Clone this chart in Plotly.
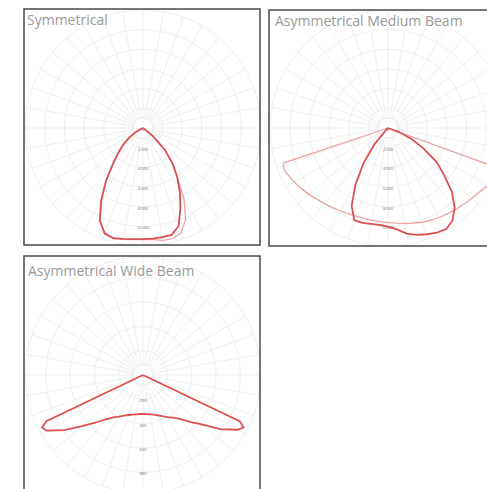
import plotly.graph_objects as go

# ---------------- data ----------------
# angles in degrees from nadir (0 = straight down, + = right side)
sym_theta = [-90, -80, -70, -65, -60, -55, -50, -45, -40, -35, -30, -25, -20, -15, -10, -5,
             0, 5, 10, 15, 20, 25, 30, 35, 40, 45, 50, 55, 60, 70, 80, 90]
sym_c0 = [0, 0, 0, 250, 900, 1750, 2600, 3550, 4750, 6550, 8500, 10400, 11400, 11600, 11450, 11350,
          11300, 11300, 11280, 11250, 10600, 9000, 7500, 6050, 4650, 3150, 1400, 250, 0, 0, 0, 0]
sym_c90 = [0, 0, 0, 200, 900, 1750, 2600, 3550, 4750, 6550, 8500, 10400, 11450, 11650, 11500, 11400,
           11350, 11400, 11600, 11650, 11350, 10250, 8350, 6100, 4650, 3150, 1400, 250, 0, 0, 0, 0]

amb_theta_narrow = [-90, -50, -45, -40, -35, -30, -25, -20, -15, -10, -5, 0, 5, 10, 15, 20, 25,
                    30, 35, 40, 45, 50, 55, 60, 65, 70, 75, 90]
amb_narrow = [0, 0, 200, 2150, 4300, 6600, 8750, 10000, 10000, 9900, 9880, 10040, 10350, 10900,
              11250, 11500, 11750, 11850, 11450, 10550, 9200, 7450, 6050, 4150, 2650, 1200, 0, 0]

amb_theta_wide = [-90, -74, -71.5, -69, -66, -60, -55, -50, -45, -40, -35, -30, -25, -20, -15, -10,
                  -5, 0, 5, 10, 15, 20, 25, 30, 35, 40, 45, 50, 55, 60, 65, 68, 70, 72, 90]
amb_wide = [0, 0, 11150, 11400, 11300, 11000, 10750, 10500, 10230, 10050, 9880, 9720, 9620, 9540,
            9520, 9530, 9550, 9620, 9720, 9840, 10000, 10200, 10340, 10480, 10620, 10780, 10930,
            11130, 11360, 11700, 11900, 11950, 11900, 0, 0]

awb_theta = [-90, -67, -64.5, -62.5, -60, -55, -50, -45, -40, -35, -30, -25, -20, -15, -10, -5, 0,
             5, 10, 15, 20, 25, 30, 35, 40, 45, 50, 55, 60, 62.5, 64.5, 67, 90]
awb_vals = [0, 0, 880, 935, 915, 790, 655, 555, 475, 425, 395, 368, 350, 337, 328, 322, 320,
            322, 328, 338, 352, 372, 400, 428, 472, 545, 630, 775, 900, 932, 880, 0, 0]

sym_ticks = [0, 2000, 4000, 6000, 8000, 10000, 12000]
sym_tick_labels = ["0", "2.000", "4.000", "6.000", "8.000", "10.000", "12.000"]
amb_ticks = [0, 2000, 4000, 6000, 8000, 10000, 12000]
amb_tick_labels = ["0", "2.000", "4.000", "6.000", "8.000", "10.000", "12.000"]
awb_ticks = [0, 200, 400, 600, 800]
awb_tick_labels = ["0", "200", "400", "600", "800"]

titles = ["Symmetrical", "Asymmetrical Medium Beam", "Asymmetrical Wide Beam"]

# ---------------- layout constants ----------------
W, H = 510, 500
R = 118
INNER = 0.085          # inner grid circle, as a fraction of the outer radius
GRID = "#efefef"
DARK = "#dc5050"
LIGHT = "#eaa3a3"


def dom(cx, cy):
    return dict(x=[(cx - R) / W, (cx + R) / W], y=[1 - (cy + R) / H, 1 - (cy - R) / H])


def polar(cx, cy, rmax, ticks):
    return dict(
        domain=dom(cx, cy),
        bgcolor="white",
        radialaxis=dict(range=[0, rmax], tickvals=[t for t in ticks if t > 0],
                        showticklabels=False, ticks="", showline=False,
                        gridcolor=GRID, gridwidth=1),
        angularaxis=dict(rotation=-90, direction="counterclockwise", tickmode="linear",
                         tick0=0, dtick=10, showticklabels=False, ticks="",
                         gridcolor=GRID, gridwidth=1, showline=True, linecolor=GRID),
    )


fig = go.Figure()


def inner_disk(rmax, sp):
    th = list(range(0, 361, 10))
    fig.add_trace(go.Scatterpolar(r=[rmax * INNER] * len(th), theta=th, mode="lines",
                                  fill="toself", fillcolor="white", subplot=sp,
                                  line=dict(color="#e6e6e6", width=1), hoverinfo="skip",
                                  showlegend=False))


def curve(r, th, color, width, sp):
    fig.add_trace(go.Scatterpolar(r=r, theta=th, mode="lines", subplot=sp,
                                  line=dict(color=color, width=width), hoverinfo="skip",
                                  showlegend=False))


def labels(ticks, texts, sp):
    fig.add_trace(go.Scatterpolar(r=ticks, theta=[0] * len(ticks), mode="text", text=texts,
                                  textposition="bottom center", subplot=sp,
                                  textfont=dict(size=4, color="#6e6e6e", family="Open Sans"),
                                  hoverinfo="skip", showlegend=False))


inner_disk(12000, "polar")
labels(sym_ticks, sym_tick_labels, "polar")
curve(sym_c90, sym_theta, LIGHT, 1.3, "polar")
curve(sym_c0, sym_theta, DARK, 1.8, "polar")

inner_disk(12000, "polar2")
labels(amb_ticks, amb_tick_labels, "polar2")
curve(amb_wide, amb_theta_wide, LIGHT, 1.3, "polar2")
curve(amb_narrow, amb_theta_narrow, DARK, 1.8, "polar2")

inner_disk(970, "polar3")
labels(awb_ticks, awb_tick_labels, "polar3")
curve(awb_vals, awb_theta, DARK, 1.8, "polar3")


def px(x):
    return x / W


def py(y):
    return 1 - y / H


shapes = []
# white masks between panels
for (x0, y0, x1, y1) in [(260.5, 0, 268.5, 250), (0, 245.5, W, 255.5), (260.5, 245.5, W, H)]:
    shapes.append(dict(type="rect", xref="paper", yref="paper", x0=px(x0), x1=px(x1),
                       y0=py(y1), y1=py(y0), fillcolor="white", line=dict(width=0),
                       layer="above"))
# panel borders
for (x0, y0, x1, y1) in [(24, 9, 260, 245), (269, 10, 495, 246), (24, 256, 260, 505)]:
    shapes.append(dict(type="rect", xref="paper", yref="paper", x0=px(x0), x1=px(x1),
                       y0=py(y1), y1=py(y0), fillcolor="rgba(0,0,0,0)",
                       line=dict(color="#4a4a4a", width=1.5), layer="above"))

annotations = []
for t, (x, y) in zip(titles, [(25, 19), (273, 20), (26, 270)]):
    annotations.append(dict(text=t, x=px(x), y=py(y), xref="paper", yref="paper",
                            xanchor="left", yanchor="middle", showarrow=False,
                            font=dict(family="Open Sans", size=14, color="#9a9a9a")))

fig.update_layout(
    width=W, height=H,
    margin=dict(l=0, r=0, t=0, b=0),
    paper_bgcolor="white",
    polar=polar(143, 128, 12000, sym_ticks),
    polar2=polar(388, 128, 12000, amb_ticks),
    polar3=polar(143, 375, 970, awb_ticks),
    shapes=shapes,
    annotations=annotations,
    showlegend=False,
)

fig.write_html("out.html", config={"displayModeBar": False},
               post_script="document.body.style.margin='0';document.body.style.overflow='hidden';")
